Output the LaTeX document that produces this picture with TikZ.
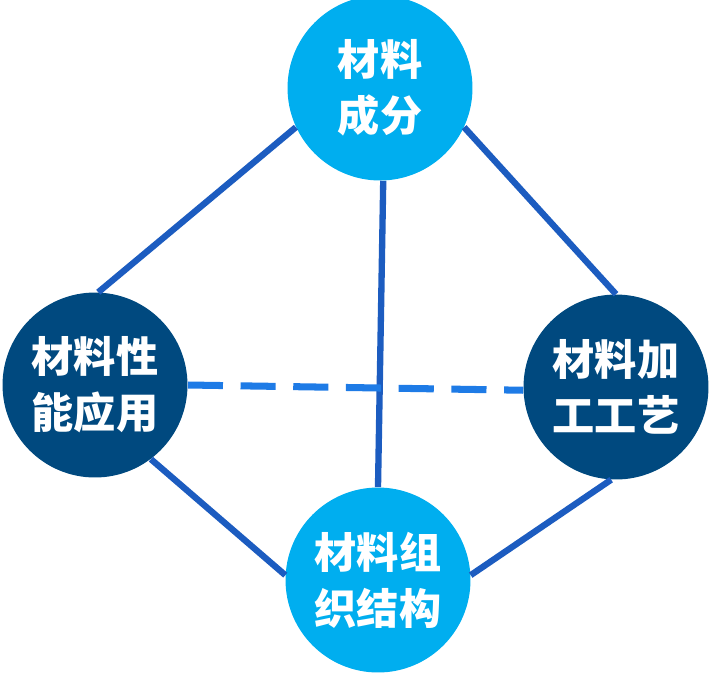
\documentclass[tikz,border=0pt]{standalone}
\usepackage{fontspec}
\newfontfamily\cjk{Noto Sans CJK SC}
\usetikzlibrary{positioning}
\definecolor{light blue}{HTML}{00AEEF}
\definecolor{dark blue}{HTML}{00497F}
\definecolor{link blue}{HTML}{1C5CC0}
\definecolor{dash blue}{HTML}{1E7BE6}
\tikzset{
  topic/.style={circle, minimum size=3.7cm, inner sep=0pt, text=white, align=center,
    font=\cjk\bfseries\fontsize{24}{32}\selectfont},
  link/.style={draw=link blue, line width=3.6pt}
}
\begin{document}
\begin{tikzpicture}[x=0.02cm,y=-0.02cm]
	\useasboundingbox (0,0) rectangle (716,687);
	\node[topic, fill=light blue] (comp) at (380,88) {材料\\成分};
	\node[topic, fill=dark blue] (perf) at (95,385) {材料性\\能应用};
	\node[topic, fill=dark blue] (proc) at (616,387) {材料加\\工工艺};
	\node[topic, fill=light blue] (struct) at (378,580) {材料组\\织结构};
	\draw[link] (comp.205) -- (perf.88);
	\draw[link] (comp.335) -- (proc.90);
	\draw[link] (comp.272) -- (struct.90);
	\draw[link] (perf.307) -- (struct.177);
	\draw[link] (proc.267) -- (struct.3);
	\draw[draw=dash blue, line width=4pt, dash pattern=on 20pt off 10pt] (perf.0) -- (proc.182);
\end{tikzpicture}
\end{document}
